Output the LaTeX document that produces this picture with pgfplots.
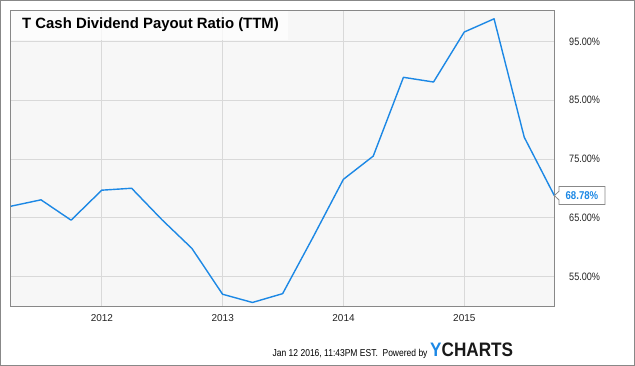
\documentclass[border=0pt]{standalone}
\usepackage{fontspec}
\usepackage{graphicx}
\usepackage{pgfplots}
\pgfplotsset{compat=1.18}
\setmainfont{Liberation Sans}
\newfontfamily\narrowfont[FakeStretch=0.85]{Liberation Sans}
\definecolor{lineblue}{RGB}{28,136,229}
\definecolor{plotbg}{RGB}{247,247,247}
\definecolor{gridc}{RGB}{217,217,217}
\definecolor{framec}{RGB}{136,136,136}
\definecolor{txt}{RGB}{34,34,34}
\begin{document}
\begin{tikzpicture}
\useasboundingbox (0,0) rectangle (635pt,-366pt);
\draw[framec, line width=1.2pt] (0.6pt,-0.6pt) rectangle (634.4pt,-365.4pt);
\begin{axis}[
  at={(10.8pt,-306pt)}, anchor=south west,
  scale only axis, width=543.9pt, height=295.7pt,
  xmin=0.246, xmax=4.748, ymin=50, ymax=100.3,
  axis background/.style={fill=plotbg},
  grid=major, major grid style={gridc, line width=0.9pt},
  axis line style={framec, line width=0.9pt},
  major tick length=0pt,
  xtick={1,2,3,4},
  xticklabels={2012,2013,2014,2015},
  ytick={55,65,75,85,95},
  yticklabels={55.00\%,65.00\%,75.00\%,85.00\%,95.00\%},
  yticklabel pos=right,
  yticklabel style={font=\narrowfont\fontsize{10.7}{12}\selectfont, text=txt, anchor=west, xshift=11pt},
  xticklabel style={font=\fontsize{10}{12}\selectfont, text=txt, anchor=north, yshift=-4.5pt},
  clip=false,
]
% x = years after 2011
\addplot[lineblue, line width=1.4pt, line join=round] coordinates {
(0.246,66.97)
(0.496,68.06)
(0.745,64.6)
(0.999,69.7)
(1.246,70.03)
(1.496,64.7)
(1.745,59.8)
(1.999,52.0)
(2.246,50.6)
(2.496,52.1)
(2.745,61.6)
(2.999,71.55)
(3.246,75.5)
(3.496,88.9)
(3.745,88.1)
(3.999,96.6)
(4.246,98.85)
(4.496,78.7)
(4.745,68.78)
};
\coordinate (endpt) at (axis cs:4.745,68.78);
\end{axis}
\draw[framec, fill=white, line width=0.8pt] (endpt) -- ++(4.6pt,4.3pt) -- ++(0,4.7pt) -- ++(46pt,0) -- ++(0,-18pt) -- ++(-46pt,0) -- ++(0,4.7pt) -- cycle;
\node[anchor=center, text=lineblue, font=\narrowfont\bfseries\fontsize{11.3}{12}\selectfont, inner sep=0pt] at ([xshift=27.6pt,yshift=-0.3pt]endpt) {68.78\%};
\fill[white, opacity=0.75] (11.3pt,-10.8pt) rectangle (288pt,-40pt);
\node[anchor=base west, inner sep=0pt, font=\bfseries\fontsize{14.9}{16}\selectfont, text=black] at (22pt,-28.3pt) {T Cash Dividend Payout Ratio (TTM)};
\node[anchor=base east, inner sep=0pt, font=\narrowfont\fontsize{10}{12}\selectfont, text=black] at (427.7pt,-356pt) {Jan 12 2016, 11:43PM EST.\ \ Powered by};
\node[anchor=base west, inner sep=0pt, font=\bfseries\fontsize{19.5}{22}\selectfont] at (430pt,-356.7pt) {\scalebox{0.88}[1]{\textcolor{lineblue}{Y}\textcolor{black!90}{CHARTS}}};
\end{tikzpicture}
\end{document}
